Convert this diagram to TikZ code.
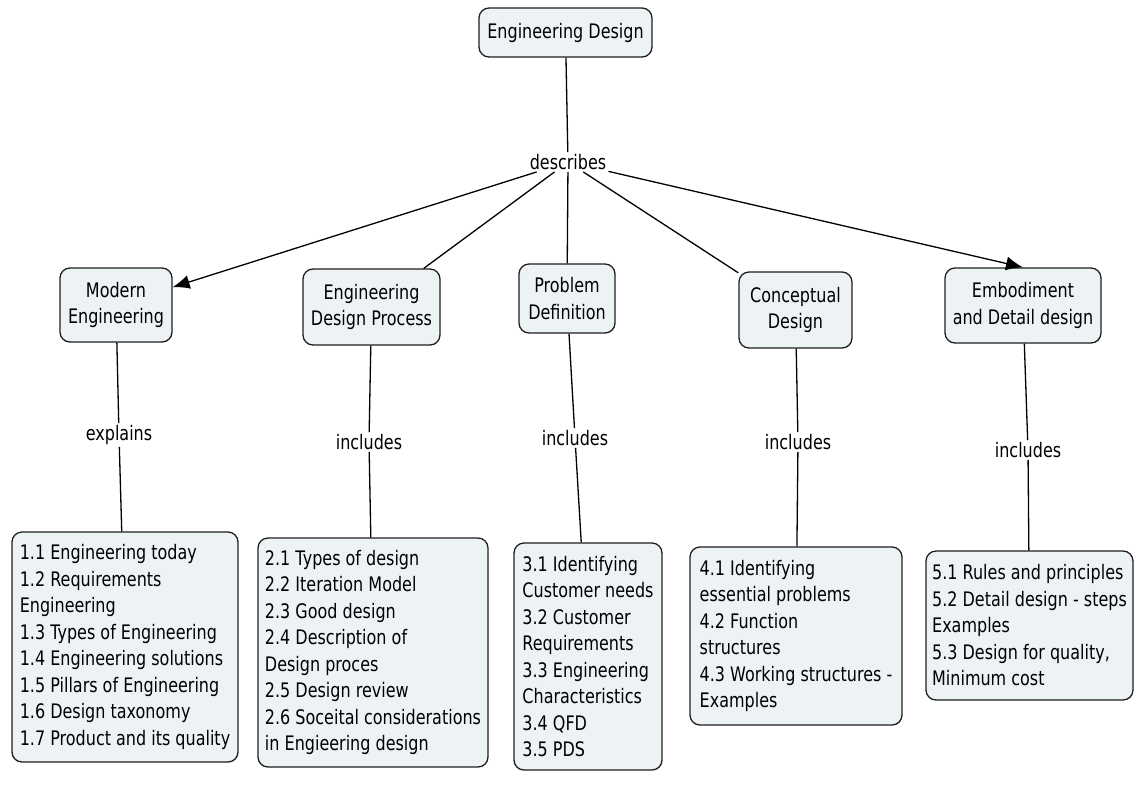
\documentclass[tikz,border=0pt]{standalone}
\usepackage{fontspec}
\setmainfont{DejaVu Sans}[FakeStretch=0.8]
\usetikzlibrary{arrows.meta}
\definecolor{boxfill}{RGB}{237,243,245}
\definecolor{boxline}{RGB}{30,30,30}
\tikzset{
  concept/.style={draw=boxline, fill=boxfill, line width=1.3pt, rounded corners=10pt,
    inner sep=0pt, align=center, font=\fontsize{20}{26.5}\selectfont},
  topic/.style={draw=boxline, fill=boxfill, line width=1.3pt, rounded corners=10pt,
    inner sep=0pt, align=left, font=\fontsize{20}{26.5}\selectfont},
  linkword/.style={inner sep=2pt, font=\fontsize{20}{26.5}\selectfont},
  conn/.style={line width=1.3pt, draw=black},
  arr/.style={conn, -{Latex[length=17pt,width=14pt]}}
}
\begin{document}
\begin{tikzpicture}[x=1pt,y=-1pt]
\useasboundingbox (0,0) rectangle (1135,801);
% top concept
\node[concept, minimum width=173pt, minimum height=49pt] (ed) at (565.5,32.5) {Engineering Design};
\node[linkword] (desc) at (568,162) {describes};
% second row
\node[concept, minimum width=112pt, minimum height=74pt] (me) at (116,305) {Modern\\Engineering};
\node[concept, minimum width=137pt, minimum height=76pt] (edp) at (371.5,307) {Engineering\\Design Process};
\node[concept, minimum width=96pt, minimum height=69pt] (pd) at (567,298.5) {Problem\\Definition};
\node[concept, minimum width=113pt, minimum height=76pt] (cd) at (795.5,310) {Conceptual\\Design};
\node[concept, minimum width=156pt, minimum height=75pt] (emb) at (1023,305.5) {Embodiment\\and Detail design};
% link words
\node[linkword] (l1) at (119,435) {explains};
\node[linkword] (l2) at (369,442) {includes};
\node[linkword] (l3) at (575,438) {includes};
\node[linkword] (l4) at (798,442) {includes};
\node[linkword] (l5) at (1028,450) {includes};
% bottom topics
\node[topic, minimum width=226pt, minimum height=230pt] (b1) at (125,647) {1.1 Engineering today\\1.2 Requirements\\Engineering\\1.3 Types of Engineering\\1.4 Engineering solutions\\1.5 Pillars of Engineering\\1.6 Design taxonomy\\1.7 Product and its quality};
\node[topic, minimum width=230pt, minimum height=229pt] (b2) at (373,652.5) {2.1 Types of design\\2.2 Iteration Model\\2.3 Good design\\2.4 Description of\\Design proces\\2.5 Design review\\2.6 Soceital considerations\\in Engieering design};
\node[topic, minimum width=148pt, minimum height=227pt] (b3) at (588,656.5) {3.1 Identifying\\Customer needs\\3.2 Customer\\Requirements\\3.3 Engineering\\Characteristics\\3.4 QFD\\3.5 PDS};
\node[topic, minimum width=212pt, minimum height=178pt] (b4) at (796,636) {4.1 Identifying\\essential problems\\4.2 Function\\structures\\4.3 Working structures -\\Examples};
\node[topic, minimum width=207pt, minimum height=149pt] (b5) at (1029.5,625.5) {5.1 Rules and principles\\5.2 Detail design - steps\\Examples\\5.3 Design for quality,\\Minimum cost};
% connectors
\draw[conn] (ed) -- (desc);
\draw[arr] (desc) -- (me);
\draw[conn] (desc) -- (edp);
\draw[conn] (desc) -- (pd);
\draw[conn] (desc) -- (cd);
\draw[arr] (desc) -- (emb.north);
\draw[conn] (me) -- (l1);
\draw[conn] (l1) -- (b1);
\draw[conn] (edp) -- (l2);
\draw[conn] (l2) -- (b2);
\draw[conn] (pd) -- (l3);
\draw[conn] (l3) -- (b3);
\draw[conn] (cd) -- (l4);
\draw[conn] (l4) -- (b4);
\draw[conn] (emb) -- (l5);
\draw[conn] (l5) -- (b5);
\end{tikzpicture}
\end{document}
